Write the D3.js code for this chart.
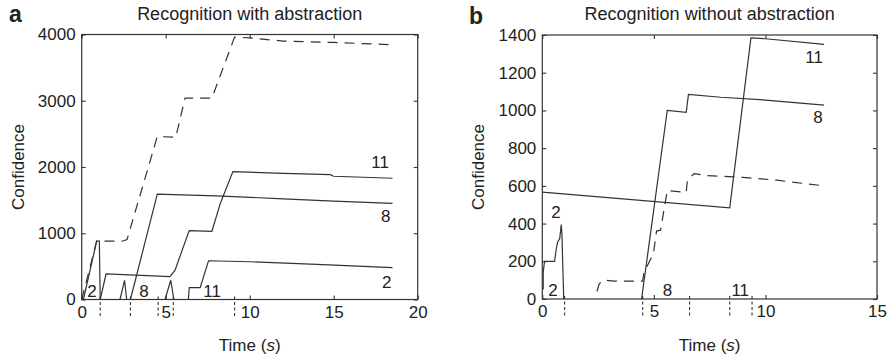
<!DOCTYPE html>
<html>
<head>
<meta charset="utf-8">
<script src="https://cdnjs.cloudflare.com/ajax/libs/d3/7.8.5/d3.min.js"></script>
<style>
  body { margin: 0; background: #fff; }
  svg text { font-family: "Liberation Sans", Arial, sans-serif; fill: #222; }
</style>
</head>
<body>
<svg id="chart" width="893" height="359"></svg>
<script>
// ---- panel a: recognition with abstraction ----
var aTitle = 'Recognition with abstraction';
var aXTicks = [0, 5, 10, 15, 20];
var aYTicks = [0, 1000, 2000, 3000, 4000];

var aDashT = [0, 0.89, 2.4, 2.7, 4.5, 5.6, 6.15, 7.75, 9.1, 10, 12, 15, 18.5];
var aDashV = [0, 880, 880, 905, 2460, 2450, 3040, 3040, 3960, 3950, 3900, 3880, 3845];

var a11T = [1.1, 1.45, 5.25, 5.55, 6.4, 7.75, 8.25, 9.0, 12, 14.8, 15, 18.5];
var a11V = [0, 385, 345, 440, 1040, 1030, 1450, 1930, 1905, 1885, 1860, 1830];
var a8T = [2.9, 4.5, 8, 12, 15, 18.5];
var a8V = [0, 1590, 1565, 1520, 1485, 1450];
var a2T = [6.35, 6.4, 7.05, 7.55, 10, 14, 18.5];
var a2V = [0, 180, 180, 585, 570, 530, 480];
var aSpikeT = [0.1, 0.89, 1.05, 1.1];
var aSpikeV = [0, 880, 880, 0];
var aBlip1T = [2.28, 2.55, 2.68];
var aBlip1V = [0, 290, 0];
var aBlip2T = [4.96, 5.3, 5.49];
var aBlip2V = [0, 290, 0];

var aEvents = [1.1, 2.9, 4.55, 5.45, 9.1];
var aLabelText = ['2', '8', '11', '11', '8', '2'];
var aLabelT = [0.61, 3.71, 7.76, 17.76, 18.1, 18.15];
var aLabelV = [40, 40, 40, 1984, 1170, 174];

// ---- panel b: recognition without abstraction ----
var bTitle = 'Recognition without abstraction';
var bXTicks = [0, 5, 10, 15];
var bYTicks = [0, 200, 400, 600, 800, 1000, 1200, 1400];

var bDashT = [2.45, 2.55, 2.75, 3.2, 4.5, 4.55, 4.98, 5.12, 5.3, 5.6, 6.45, 6.5, 6.8, 7.3, 9.0, 10.5, 12.63];
var bDashV = [40, 80, 100, 95, 95, 140, 240, 360, 365, 575, 565, 630, 665, 655, 645, 630, 600];

var b11T = [0, 8.4, 9.35, 10, 12.63];
var b11V = [567, 484, 1385, 1380, 1350];
var b8T = [4.45, 5.6, 6.45, 6.55, 8, 10, 12.63];
var b8V = [0, 1000, 990, 1085, 1070, 1055, 1028];
var b2T = [0.04, 0.04, 0.1, 0.55, 0.62, 0.68, 0.78, 0.85, 0.88, 0.96];
var b2V = [50, 140, 200, 200, 260, 300, 320, 395, 340, 0];

var bEvents = [1.0, 4.5, 6.6, 8.4, 9.4];
var bLabelText = ['2', '2', '8', '11', '11', '8'];
var bLabelT = [0.48, 0.61, 5.61, 8.87, 12.18, 12.36];
var bLabelV = [18, 427, 18, 18, 1251, 932];

var _svg = d3.select('#chart');
_svg.append('rect').attr('width', 893).attr('height', 359).attr('fill', '#fff');

var _ink = '#333';
var _fmt = d3.format('d');

var _zip = function(ts, vs){
    return ts.map(function(t, i){ return [t, vs[i]]; });
};

var drawPanel = function(p){
    var x = d3.scaleLinear().domain(p.xDomain).range([p.left, p.right]);
    var y = d3.scaleLinear().domain(p.yDomain).range([p.bottom, p.top]);
    var g = _svg.append('g');

    // event markers under the axis
    g.selectAll('.event').data(p.events).enter().append('line')
        .attr('x1', function(d){ return x(d); })
        .attr('x2', function(d){ return x(d); })
        .attr('y1', p.bottom - 3)
        .attr('y2', p.bottom + 18)
        .attr('stroke', _ink).attr('stroke-width', 1.1)
        .attr('stroke-dasharray', '3,2.5');

    var line = d3.line()
        .x(function(d){ return x(d[0]); })
        .y(function(d){ return y(d[1]); });

    p.solid.forEach(function(s){
        g.append('path').attr('d', line(s))
            .attr('fill', 'none').attr('stroke', _ink).attr('stroke-width', 1.2);
    });
    g.append('path').attr('d', line(p.dashed))
        .attr('fill', 'none').attr('stroke', _ink).attr('stroke-width', 1.2)
        .attr('stroke-dasharray', '10,7');

    // box with inward ticks on every side
    g.append('rect')
        .attr('x', p.left).attr('y', p.top)
        .attr('width', p.right - p.left).attr('height', p.bottom - p.top)
        .attr('fill', 'none').attr('stroke', _ink).attr('stroke-width', 1.2);

    g.append('g').attr('transform', 'translate(0,' + p.bottom + ')')
        .call(d3.axisBottom(x).tickValues(p.xTicks).tickSizeInner(-4).tickSizeOuter(0).tickPadding(6).tickFormat(_fmt));
    g.append('g').attr('transform', 'translate(0,' + p.top + ')')
        .call(d3.axisTop(x).tickValues(p.xTicks).tickSizeInner(-4).tickSizeOuter(0).tickFormat(''));
    g.append('g').attr('transform', 'translate(' + p.left + ',0)')
        .call(d3.axisLeft(y).tickValues(p.yTicks).tickSizeInner(-4).tickSizeOuter(0).tickPadding(6).tickFormat(_fmt));
    g.append('g').attr('transform', 'translate(' + p.right + ',0)')
        .call(d3.axisRight(y).tickValues(p.yTicks).tickSizeInner(-4).tickSizeOuter(0).tickFormat(''));

    g.selectAll('.domain').remove();
    g.selectAll('.tick line').attr('stroke', _ink).attr('stroke-width', 1.1);
    g.selectAll('.tick text').attr('font-size', 17).attr('fill', '#222')
        .attr('font-family', '"Liberation Sans", Arial, sans-serif');

    // line labels
    g.selectAll('.lbl').data(p.labels).enter().append('text')
        .attr('x', function(d){ return x(d.t); })
        .attr('y', function(d){ return y(d.v); })
        .attr('text-anchor', 'middle')
        .attr('font-size', 17)
        .text(function(d){ return d.text; });

    var cx = (p.left + p.right) / 2;
    g.append('text').attr('x', cx).attr('y', 20).attr('text-anchor', 'middle')
        .attr('font-size', 18).text(p.title);

    var xl = g.append('text').attr('x', cx).attr('y', 351).attr('text-anchor', 'middle')
        .attr('font-size', 17);
    xl.append('tspan').text('Time (');
    xl.append('tspan').attr('font-style', 'italic').text('s');
    xl.append('tspan').text(')');

    g.append('text')
        .attr('transform', 'translate(' + p.yLabelX + ',' + ((p.top + p.bottom) / 2) + ') rotate(-90)')
        .attr('text-anchor', 'middle').attr('font-size', 17).text('Confidence');

    g.append('text').attr('x', p.letterX).attr('y', p.letterY)
        .attr('font-size', 23).attr('font-weight', 'bold').attr('fill', '#111')
        .text(p.letter);
};

var _labels = function(texts, ts, vs){
    return texts.map(function(s, i){ return { text: s, t: ts[i], v: vs[i] }; });
};

drawPanel({
    letter: 'a', letterX: 9, letterY: 22,
    title: aTitle,
    left: 81.7, right: 417.7, top: 34.5, bottom: 299.5,
    xDomain: [0, 20], yDomain: [0, 4000],
    xTicks: aXTicks, yTicks: aYTicks,
    yLabelX: 24,
    events: aEvents,
    dashed: _zip(aDashT, aDashV),
    solid: [_zip(a11T, a11V), _zip(a8T, a8V), _zip(a2T, a2V),
            _zip(aSpikeT, aSpikeV), _zip(aBlip1T, aBlip1V), _zip(aBlip2T, aBlip2V)],
    labels: _labels(aLabelText, aLabelT, aLabelV)
});

drawPanel({
    letter: 'b', letterX: 469, letterY: 24,
    title: bTitle,
    left: 542.3, right: 877, top: 35, bottom: 299,
    xDomain: [0, 15], yDomain: [0, 1400],
    xTicks: bXTicks, yTicks: bYTicks,
    yLabelX: 484,
    events: bEvents,
    dashed: _zip(bDashT, bDashV),
    solid: [_zip(b11T, b11V), _zip(b8T, b8V), _zip(b2T, b2V)],
    labels: _labels(bLabelText, bLabelT, bLabelV)
});
</script>
</body>
</html>
